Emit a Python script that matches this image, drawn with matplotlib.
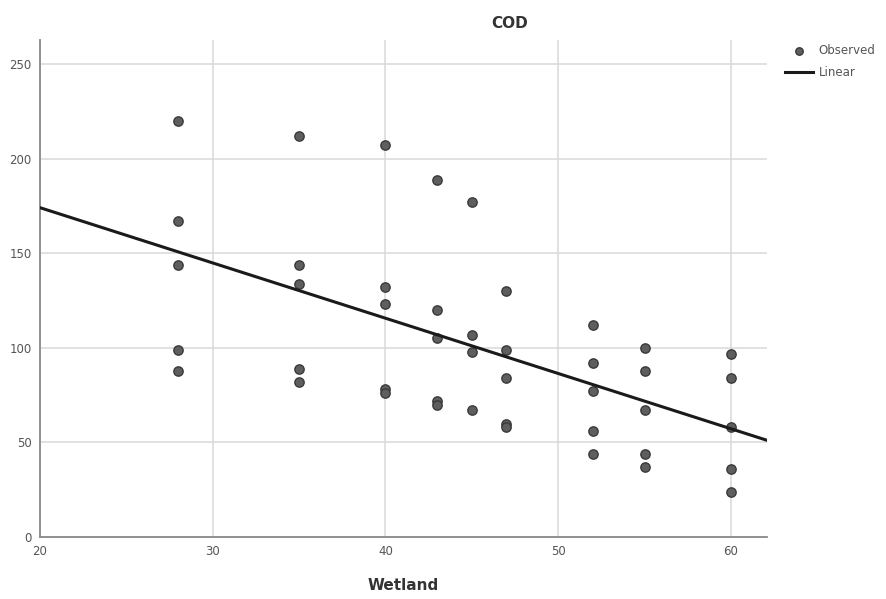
import matplotlib
matplotlib.use("Agg")
import matplotlib.pyplot as plt
import numpy as np

# Wetland vs COD observations
wetland = [28, 28, 28, 28, 28,
           35, 35, 35, 35, 35,
           40, 40, 40, 40, 40,
           43, 43, 43, 43, 43,
           45, 45, 45, 45,
           47, 47, 47, 47, 47,
           52, 52, 52, 52, 52,
           55, 55, 55, 55, 55,
           60, 60, 60, 60, 60]
cod = [220, 167, 144, 99, 88,
       212, 144, 134, 89, 82,
       207, 132, 123, 78, 76,
       189, 120, 105, 72, 70,
       177, 107, 98, 67,
       130, 99, 84, 60, 58,
       112, 92, 77, 56, 44,
       100, 88, 67, 44, 37,
       97, 84, 58, 36, 24]

x = np.array(wetland)
y = np.array(cod)
slope, intercept = np.polyfit(x, y, 1)

fig = plt.figure(figsize=(8.86, 5.99), dpi=100)
ax = fig.add_axes([0.045, 0.1035, 0.821, 0.8295])

xmin, xmax = 20, 62.1
ax.set_xlim(xmin, xmax)
ax.set_ylim(0, 262.7)

ax.grid(True, color="#d9d9d9", linewidth=1.1)
ax.set_axisbelow(True)
for s in ["top", "right"]:
    ax.spines[s].set_visible(False)
for s in ["left", "bottom"]:
    ax.spines[s].set_color("#8a8a8a")
    ax.spines[s].set_linewidth(1.3)

ax.set_xticks([20, 30, 40, 50, 60])
ax.set_yticks([0, 50, 100, 150, 200, 250])
ax.tick_params(length=0, labelsize=8.5, labelcolor="#555555", pad=6)

ax.scatter(x, y, s=45, color="#5e5e5e", edgecolors="#3a3a3a", linewidths=1.0,
           zorder=3, label="Observed")
xx = np.array([xmin, xmax])
ax.plot(xx, intercept + slope * xx, color="#1a1a1a", linewidth=2.2, zorder=4,
        label="Linear")

fig.text(510 / 886, 1 - 23 / 599, "COD", ha="center", va="center",
         fontsize=11, fontweight="bold", color="#333333")
ax.set_xlabel("Wetland", fontsize=11, fontweight="bold", color="#333333",
              labelpad=14)

ax.legend(loc="upper left", bbox_to_anchor=(785 / 886, 1 - 44 / 599),
          bbox_transform=fig.transFigure, frameon=False, fontsize=8.5,
          handlelength=2.4, handletextpad=0.45, labelspacing=0.8,
          borderaxespad=0, borderpad=0, markerscale=0.8, labelcolor="#555555")

fig.savefig("out.png", dpi=100)
